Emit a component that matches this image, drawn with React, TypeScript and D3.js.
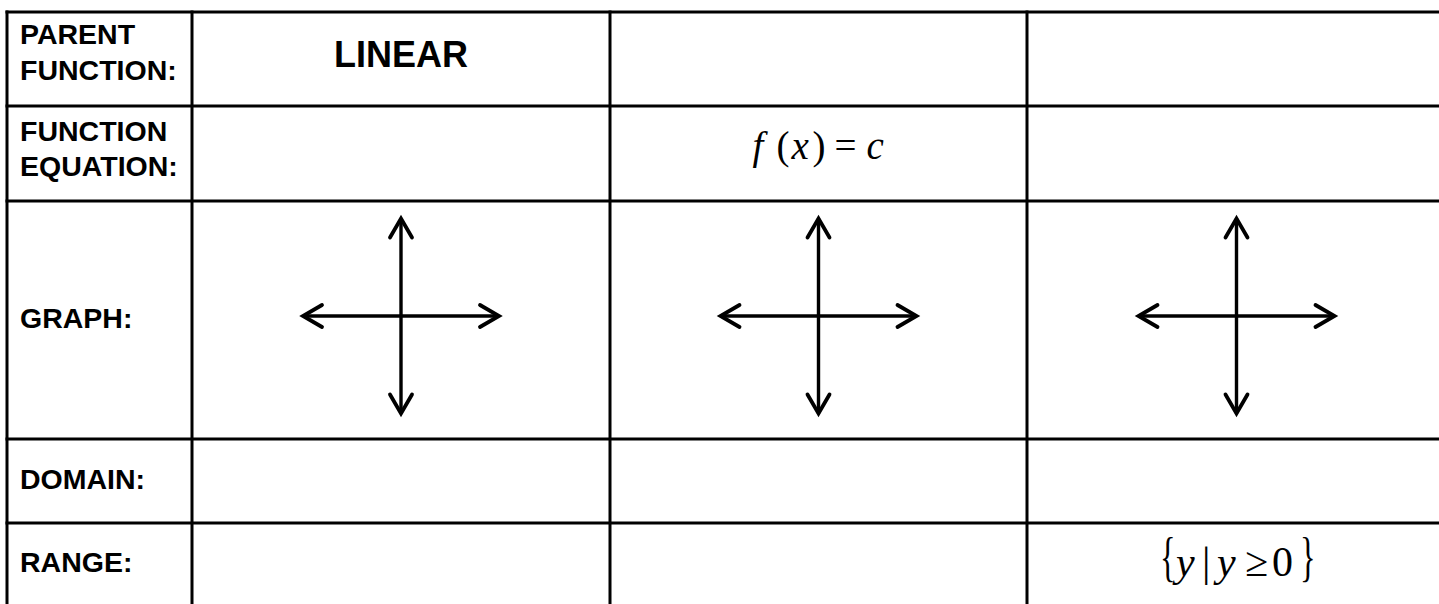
import React from 'react';
import * as d3 from 'd3';

// table content
const rowLabels = [['PARENT', 'FUNCTION:'], ['FUNCTION', 'EQUATION:'], ['GRAPH:'], ['DOMAIN:'], ['RANGE:']];
const parentNames = ['LINEAR', '', ''];
const equations = ['', 'f(x) = c', ''];
const domains = ['', '', ''];
const ranges = ['', '', '{y | y ≥ 0}'];
const graphCols = [0, 1, 2];

const W = 1439;
const H = 604;
const colEdges = [7, 192, 610, 1027, 1446];
const rowEdges = [12, 106, 201, 439, 523, 606];
const labelBaselines = [[44, 80], [141, 176], [328], [489], [572]];

const sans = '"Liberation Sans", Arial, sans-serif';
const serif = '"Liberation Serif", "Times New Roman", serif';

// each glyph of a math string, placed along its width like an equation editor would
function MathText({ s, cx, y, size, gaps }: { s: string; cx: number; y: number; size: number; gaps: number[] }) {
  const glyphs = [...s].filter((c) => c !== ' ');
  const total = gaps[gaps.length - 1];
  const left = cx - total / 2;
  return (
    <g fontFamily={serif} fill="#000">
      {glyphs.map((g, i) => {
        const x = left + gaps[i];
        if (g === '{' || g === '}') {
          return (
            <text key={i} x={0} y={0} fontSize={size * 0.965}
              transform={`translate(${x},${y - 1}) scale(0.8,1.35)`}>{g}</text>
          );
        }
        return (
          <text key={i} x={x} y={y} fontSize={size} fontStyle={/[a-z]/.test(g) ? 'italic' : 'normal'}>{g}</text>
        );
      })}
    </g>
  );
}

function Cross({ cx, cy }: { cx: number; cy: number }) {
  const x = d3.scaleLinear().domain([-1, 1]).range([cx - 98, cx + 98]);
  const y = d3.scaleLinear().domain([-1, 1]).range([cy + 97.5, cy - 97.5]);
  return (
    <g stroke="#000" strokeWidth={3.4} fill="none">
      <line x1={x(-1)} x2={x(1)} y1={y(0)} y2={y(0)} markerStart="url(#chev)" markerEnd="url(#chev)" />
      <line x1={x(0)} x2={x(0)} y1={y(-1)} y2={y(1)} markerStart="url(#chev)" markerEnd="url(#chev)" />
    </g>
  );
}

export default function App() {
  const colMid = (i: number) => (colEdges[i + 1] + colEdges[i + 2]) / 2;
  return (
    <svg width={W} height={H} style={{ position: 'absolute', left: 0, top: 0, background: '#fff' }}>
      <defs>
        <marker id="chev" markerUnits="userSpaceOnUse" orient="auto-start-reverse" refX={0} refY={0}
          markerWidth={40} markerHeight={40} viewBox="-30 -20 40 40" overflow="visible">
          <path d="M-19,-11 L0,0 L-19,11" stroke="#000" strokeWidth={3.8} fill="none"
            strokeLinejoin="miter" strokeLinecap="round" />
        </marker>
      </defs>
      <rect x={0} y={0} width={W} height={H} fill="#fff" />

      {/* grid */}
      <g stroke="#000" strokeWidth={3}>
        {rowEdges.map((ry, i) => (
          <line key={'h' + i} x1={colEdges[0] - 1.5} x2={colEdges[colEdges.length - 1]} y1={ry} y2={ry} />
        ))}
        {colEdges.map((cx, i) => (
          <line key={'v' + i} x1={cx} x2={cx} y1={rowEdges[0] - 1.5} y2={rowEdges[rowEdges.length - 1]} />
        ))}
      </g>

      {/* row labels */}
      <g fontFamily={sans} fontWeight="bold" fontSize={28.5} fill="#000">
        {rowLabels.map((lines, r) =>
          lines.map((t, k) => (
            <text key={r + '-' + k} x={20} y={labelBaselines[r][k]}>{t}</text>
          ))
        )}
      </g>

      {/* parent function names */}
      {parentNames.map((t, i) => t && (
        <text key={'p' + i} x={colMid(i)} y={67} textAnchor="middle" fontFamily={sans} fontWeight="bold" fontSize={36}>{t}</text>
      ))}

      {/* equations */}
      {equations.map((t, i) => t && (
        <MathText key={'e' + i} s={t} cx={colMid(i)} y={159} size={39} gaps={[0, 24, 39, 60, 82, 114, 132]} />
      ))}

      {/* graphs */}
      {graphCols.map((i) => (
        <Cross key={'g' + i} cx={colMid(i)} cy={316} />
      ))}

      {domains.map((t, i) => t && (
        <MathText key={'d' + i} s={t} cx={colMid(i)} y={492} size={42} gaps={[0, 16, 42, 57, 85, 112, 140, 153]} />
      ))}
      {ranges.map((t, i) => t && (
        <MathText key={'r' + i} s={t} cx={colMid(i)} y={576} size={42} gaps={[0, 16, 42, 57, 85, 112, 140, 153]} />
      ))}
    </svg>
  );
}
